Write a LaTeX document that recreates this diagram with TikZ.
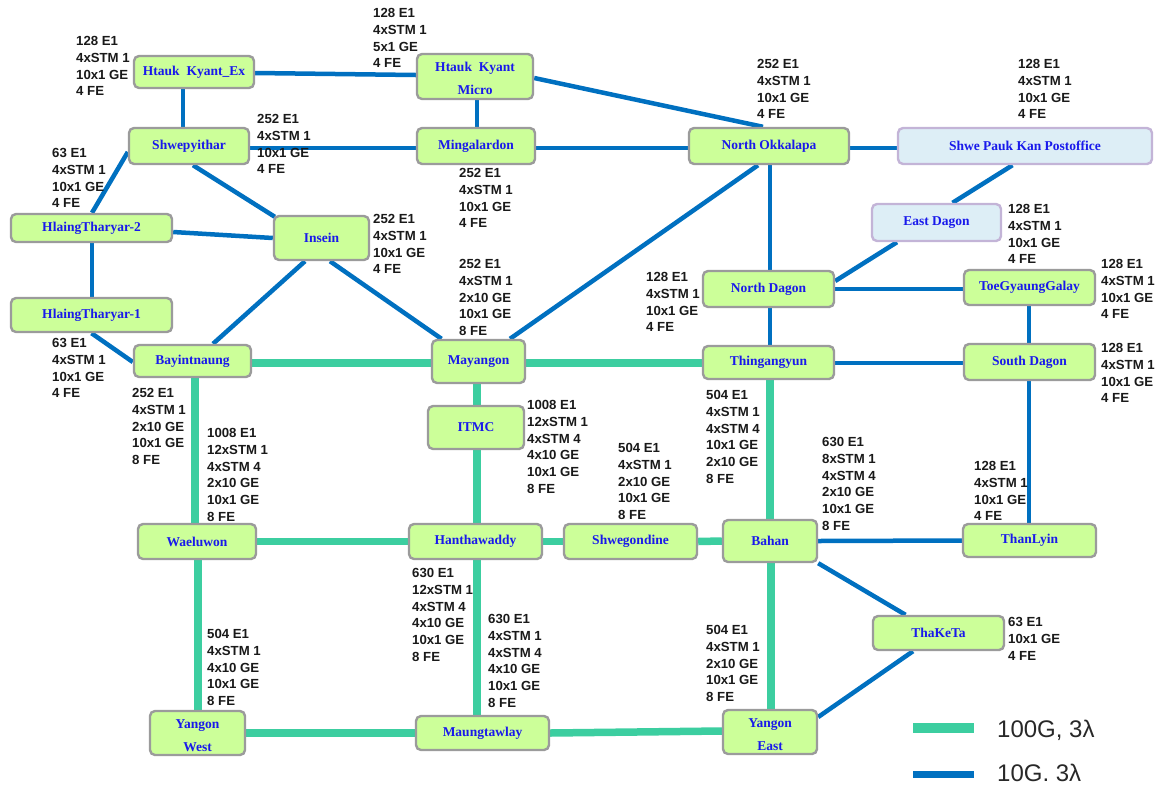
\documentclass[tikz,border=0pt]{standalone}
\usepackage{fontspec}
\setmainfont{Liberation Serif}
\newfontfamily\annfam{Liberation Sans}
\usetikzlibrary{backgrounds}
\definecolor{lineblue}{RGB}{0,112,192}
\definecolor{linegreen}{RGB}{60,206,160}
\definecolor{nodegreen}{RGB}{204,255,153}
\definecolor{nodegray}{RGB}{155,155,155}
\definecolor{nodeblue}{RGB}{25,25,235}
\definecolor{lightblue}{RGB}{221,238,246}
\definecolor{lav}{RGB}{195,180,215}
\definecolor{anncol}{RGB}{25,25,25}
\definecolor{legcol}{RGB}{40,40,40}
\newcommand\lowstrut{\rule{0pt}{14pt}}
\tikzset{
  stn/.style={draw=nodegray, fill=nodegreen, line width=2.4pt, rounded corners=5pt,
    inner sep=0pt, text=nodeblue, align=center,
    font=\fontsize{13.5}{23}\selectfont\bfseries},
  stnb/.style={stn, draw=lav, fill=lightblue},
  ann/.style={anchor=north west, inner sep=0pt, align=left, text=anncol,
    font=\annfam\fontsize{13.2}{16.7}\selectfont\bfseries},
  tenG/.style={draw=lineblue, line width=4.5pt},
  hundG/.style={draw=linegreen, line width=7.5pt},
  legtext/.style={anchor=base west, inner sep=0pt, text=legcol,
    font=\annfam\fontsize{24}{28}\selectfont},
}
\begin{document}
\begin{tikzpicture}[x=1pt,y=-1pt]
\useasboundingbox (0,0) rectangle (1156,785);
% stations
\node[stn, minimum width=120, minimum height=32] (hkex) at (194,72) {Htauk\ \ Kyant\_Ex};
\node[stn, minimum width=116, minimum height=45] (hkmicro) at (475,76.5) {\lowstrut Htauk\ \ Kyant\\Micro};
\node[stn, minimum width=120, minimum height=36] (shwe) at (189,146) {Shwepyithar};
\node[stn, minimum width=118, minimum height=36] (ming) at (476,146) {Mingalardon};
\node[stn, minimum width=160, minimum height=36] (nok) at (769,146) {North Okkalapa};
\node[stnb, minimum width=254, minimum height=36] (spk) at (1025,146) {Shwe Pauk Kan Postoffice};
\node[stnb, minimum width=129, minimum height=37] (edagon) at (936.5,222.5) {East Dagon};
\node[stn, minimum width=161, minimum height=28] (ht2) at (91.5,228) {HlaingTharyar-2};
\node[stn, minimum width=95, minimum height=44] (insein) at (321.5,238) {Insein};
\node[stn, minimum width=161, minimum height=34] (ht1) at (91.5,315) {HlaingTharyar-1};
\node[stn, minimum width=117, minimum height=32] (bay) at (192.5,361) {Bayintnaung};
\node[stn, minimum width=93, minimum height=43] (may) at (478.5,361.5) {Mayangon};
\node[stn, minimum width=131, minimum height=36] (ndagon) at (768.5,289) {North Dagon};
\node[stn, minimum width=131, minimum height=33] (thing) at (768.5,362.5) {Thingangyun};
\node[stn, minimum width=131, minimum height=35] (toe) at (1029.5,287.5) {ToeGyaungGalay};
\node[stn, minimum width=131, minimum height=36] (sdagon) at (1029.5,362) {South Dagon};
\node[stn, minimum width=96, minimum height=43] (itmc) at (476,427.5) {ITMC};
\node[stn, minimum width=118, minimum height=35] (wael) at (197,541.5) {Waeluwon};
\node[stn, minimum width=133, minimum height=35] (hanth) at (475.5,541.5) {Hanthawaddy};
\node[stn, minimum width=133, minimum height=35] (shwego) at (630.5,541.5) {Shwegondine};
\node[stn, minimum width=94, minimum height=42] (bahan) at (770,541) {Bahan};
\node[stn, minimum width=133, minimum height=33] (thanlyin) at (1029.5,540.5) {ThanLyin};
\node[stn, minimum width=131, minimum height=34] (thaketa) at (938.5,633) {ThaKeTa};
\node[stn, minimum width=95, minimum height=44] (ywest) at (197.5,733) {\lowstrut Yangon\\West};
\node[stn, minimum width=133, minimum height=34] (maung) at (482.5,733) {Maungtawlay};
\node[stn, minimum width=94, minimum height=44] (yeast) at (770,732) {\lowstrut Yangon\\East};
% connectors
\begin{pgfonlayer}{background}
\draw[tenG] ([yshift=-1]hkex.east) -- ([yshift=1.5]hkmicro.west);
\draw[tenG] ([xshift=-11]hkex.south) -- ([xshift=-6]shwe.north);
\draw[tenG] ([xshift=2]hkmicro.south) -- ([xshift=1]ming.north);
\draw[tenG] ([yshift=-1.5]hkmicro.east) -- ([xshift=-6]nok.north);
\draw[tenG] ([yshift=-2]shwe.east) -- ([yshift=-2]ming.west);
\draw[tenG] ([yshift=-2]ming.east) -- ([yshift=-2]nok.west);
\draw[tenG] ([yshift=-2]nok.east) -- ([yshift=-2]spk.west);
\draw[tenG] ([yshift=-6]shwe.west) -- ([xshift=0.5]ht2.north);
\draw[tenG] ([xshift=4]shwe.south) -- ([xshift=2,yshift=-2]insein.north west);
\draw[tenG] ([yshift=-4]ht2.east) -- (insein.west);
\draw[tenG] ([xshift=0.5]ht2.south) -- ([xshift=0.5]ht1.north);
\draw[tenG] (ht1.south) -- ([yshift=-1]bay.west);
\draw[tenG] ([xshift=-16.5]insein.south) -- ([xshift=20.5]bay.north);
\draw[tenG] ([xshift=8.5]insein.south) -- ([xshift=-37]may.north);
\draw[tenG] ([xshift=31.5]may.north) -- ([xshift=-11]nok.south);
\draw[tenG] ([xshift=1]nok.south) -- ([xshift=1.5]ndagon.north);
\draw[tenG] ([xshift=1.5]ndagon.south) -- ([xshift=1.5]thing.north);
\draw[tenG] ([xshift=-12.5]spk.south) -- ([xshift=16]edagon.north);
\draw[tenG] ([xshift=-39.5]edagon.south) -- ([yshift=8]ndagon.east);
\draw[tenG] (ndagon.east) -- ([yshift=-1.5]toe.west);
\draw[tenG] ([xshift=-0.5]toe.south) -- ([xshift=-0.5]sdagon.north);
\draw[tenG] ([yshift=-0.5]thing.east) -- ([yshift=-1]sdagon.west);
\draw[tenG] ([xshift=-0.5]sdagon.south) -- ([xshift=-0.5]thanlyin.north);
\draw[tenG] (bahan.east) -- (thanlyin.west);
\draw[tenG] (bahan.south east) -- ([xshift=-33]thaketa.north);
\draw[tenG] ([xshift=-25.5]thaketa.south) -- ([yshift=15]yeast.east);
\draw[hundG] ([yshift=-2]bay.east) -- ([yshift=-1.5]may.west);
\draw[hundG] ([yshift=-1.5]may.east) -- ([yshift=-0.5]thing.west);
\draw[hundG] ([xshift=2.5]bay.south) -- ([xshift=-2]wael.north);
\draw[hundG] ([xshift=-1.5]may.south) -- ([xshift=1]itmc.north);
\draw[hundG] ([xshift=1]itmc.south) -- ([xshift=1.5]hanth.north);
\draw[hundG] ([xshift=1.5]thing.south) -- (bahan.north);
\draw[hundG] (wael.east) -- (hanth.west);
\draw[hundG] (hanth.east) -- (shwego.west);
\draw[hundG] (shwego.east) -- (bahan.west);
\draw[hundG] ([xshift=1]wael.south) -- ([xshift=0.5]ywest.north);
\draw[hundG] ([xshift=1.5]hanth.south) -- ([xshift=-5.5]maung.north);
\draw[hundG] ([xshift=1]bahan.south) -- ([xshift=1]yeast.north);
\draw[hundG] (ywest.east) -- (maung.west);
\draw[hundG] (maung.east) -- ([yshift=1]yeast.west);
\end{pgfonlayer}
% annotations
\node[ann] (a1) at (76,36.2) {128 E1\\4xSTM 1\\10x1 GE\\4 FE};
\node[ann] (a2) at (373,8.2) {128 E1\\4xSTM 1\\5x1 GE\\4 FE};
\node[ann] (a3) at (257,114.2) {252 E1\\4xSTM 1\\10x1 GE\\4 FE};
\node[ann] (a4) at (52,148.2) {63 E1\\4xSTM 1\\10x1 GE\\4 FE};
\node[ann] (a5) at (459,168.2) {252 E1\\4xSTM 1\\10x1 GE\\4 FE};
\node[ann] (a6) at (757,59.2) {252 E1\\4xSTM 1\\10x1 GE\\4 FE};
\node[ann] (a7) at (1018,59.2) {128 E1\\4xSTM 1\\10x1 GE\\4 FE};
\node[ann] (a8) at (373,214.2) {252 E1\\4xSTM 1\\10x1 GE\\4 FE};
\node[ann] (a9) at (459,259.2) {252 E1\\4xSTM 1\\2x10 GE\\10x1 GE\\8 FE};
\node[ann] (a10) at (1008,204.2) {128 E1\\4xSTM 1\\10x1 GE\\4 FE};
\node[ann] (a11) at (646,272.2) {128 E1\\4xSTM 1\\10x1 GE\\4 FE};
\node[ann] (a12) at (1101,259.2) {128 E1\\4xSTM 1\\10x1 GE\\4 FE};
\node[ann] (a13) at (1101,343.2) {128 E1\\4xSTM 1\\10x1 GE\\4 FE};
\node[ann] (a14) at (52,338.2) {63 E1\\4xSTM 1\\10x1 GE\\4 FE};
\node[ann] (a15) at (132,388.2) {252 E1\\4xSTM 1\\2x10 GE\\10x1 GE\\8 FE};
\node[ann] (a16) at (207,428.2) {1008 E1\\12xSTM 1\\4xSTM 4\\2x10 GE\\10x1 GE\\8 FE};
\node[ann] (a17) at (527,400.2) {1008 E1\\12xSTM 1\\4xSTM 4\\4x10 GE\\10x1 GE\\8 FE};
\node[ann] (a18) at (618,443.2) {504 E1\\4xSTM 1\\2x10 GE\\10x1 GE\\8 FE};
\node[ann] (a19) at (706,390.2) {504 E1\\4xSTM 1\\4xSTM 4\\10x1 GE\\2x10 GE\\8 FE};
\node[ann] (a20) at (822,437.2) {630 E1\\8xSTM 1\\4xSTM 4\\2x10 GE\\10x1 GE\\8 FE};
\node[ann] (a21) at (974,461.2) {128 E1\\4xSTM 1\\10x1 GE\\4 FE};
\node[ann] (a22) at (412,568.2) {630 E1\\12xSTM 1\\4xSTM 4\\4x10 GE\\10x1 GE\\8 FE};
\node[ann] (a23) at (488,614.2) {630 E1\\4xSTM 1\\4xSTM 4\\4x10 GE\\10x1 GE\\8 FE};
\node[ann] (a24) at (207,629.2) {504 E1\\4xSTM 1\\4x10 GE\\10x1 GE\\8 FE};
\node[ann] (a25) at (706,625.2) {504 E1\\4xSTM 1\\2x10 GE\\10x1 GE\\8 FE};
\node[ann] (a26) at (1008,617.2) {63 E1\\10x1 GE\\4 FE};
% legend
\coordinate (lga) at (913,728);
\coordinate (lgb) at (974,728);
\coordinate (lgc) at (913,774);
\coordinate (lgd) at (974,774);
\draw[draw=linegreen, line width=9.5pt] (lga) -- (lgb);
\draw[draw=lineblue, line width=7pt] (lgc) -- (lgd);
\node[legtext] (lt1) at (997,737) {100G, 3λ};
\node[legtext] (lt2) at (997,781) {10G. 3λ};
\end{tikzpicture}
\end{document}
